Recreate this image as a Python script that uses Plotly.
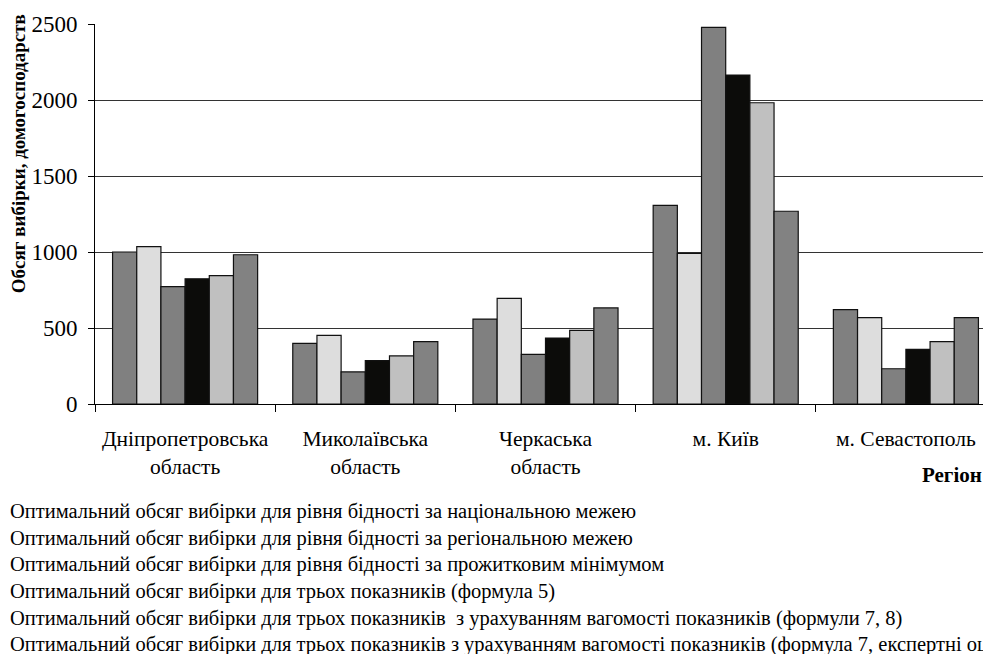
import plotly.graph_objects as go

regions = ["Дніпропетровська<br>область", "Миколаївська<br>область", "Черкаська<br>область", "м. Київ", "м. Севастополь"]

series_names = [
    "Оптимальний обсяг вибірки для рівня бідності за національною межею",
    "Оптимальний обсяг вибірки для рівня бідності за регіональною межею",
    "Оптимальний обсяг вибірки для рівня бідності за прожитковим мінімумом",
    "Оптимальний обсяг вибірки для трьох показників (формула 5)",
    "Оптимальний обсяг вибірки для трьох показників  з урахуванням вагомості показників (формули 7, 8)",
    "Оптимальний обсяг вибірки для трьох показників з урахуванням вагомості показників (формула 7, експертні оцінки)",
]

national = [1000, 399, 559, 1307, 621]
regional = [1035, 452, 695, 991, 568]
subsistence = [772, 211, 327, 2478, 232]
three_f5 = [824, 285, 434, 2164, 360]
three_f78 = [844, 316, 485, 1982, 410]
three_expert = [982, 410, 632, 1268, 568]

series_values = [national, regional, subsistence, three_f5, three_f78, three_expert]
colors = ["#808080", "#DDDDDD", "#808080", "#0C0C0A", "#C0C0C0", "#828282"]

y_ticks = [0, 500, 1000, 1500, 2000, 2500]

FONT = "Liberation Serif"

# legend rows (paper y of each legend entry)
legend_rows_y = [-0.279, -0.350, -0.418, -0.490, -0.561, -0.629]

fig = go.Figure()
for i, (name, vals, col) in enumerate(zip(series_names, series_values, colors)):
    lg = "legend" if i == 0 else f"legend{i+1}"
    fig.add_trace(go.Bar(
        x=regions, y=vals, name=name, legend=lg,
        marker=dict(color=col, line=dict(color="#111111", width=1.2)),
    ))

layout_legends = {}
for i, ly in enumerate(legend_rows_y):
    key = "legend" if i == 0 else f"legend{i+1}"
    layout_legends[key] = dict(
        orientation="v", x=-0.1387, xanchor="left", y=ly, yanchor="middle",
        font=dict(family=FONT, size=20.5, color="black"),
        itemwidth=30, bgcolor="rgba(0,0,0,0)",
    )

fig.update_layout(
    width=991, height=646,
    margin=dict(l=87, r=3, t=16, b=250, autoexpand=False),
    paper_bgcolor="white", plot_bgcolor="white",
    barmode="group", bargap=0.195, bargroupgap=0,
    font=dict(family=FONT, size=19, color="black"),
    showlegend=True,
    xaxis=dict(
        type="category", range=[-0.5, 4.5],
        showline=True, linecolor="black", linewidth=1, mirror=False,
        ticks="outside", ticklen=7, tickcolor="black", tickson="boundaries",
        showgrid=False, ticklabelstandoff=15,
        tickfont=dict(family=FONT, size=21.5, color="black"),
    ),
    yaxis=dict(
        range=[0, 2500], tickvals=y_ticks,
        showline=True, linecolor="black", linewidth=1,
        ticks="outside", ticklen=6, tickcolor="black",
        showgrid=True, gridcolor="#333333", gridwidth=1,
        zeroline=False, ticklabelstandoff=6,
        tickfont=dict(family=FONT, size=23, color="black"),
    ),
    annotations=[
        dict(text="<b>Обсяг вибірки, домогосподарств</b>", textangle=-90,
             xref="paper", yref="paper", x=-0.0855, y=0.66, xanchor="center", yanchor="middle",
             showarrow=False, font=dict(family=FONT, size=19, color="black")),
        dict(text="<b>Регіон</b>", xref="paper", yref="paper", x=0.987, y=-0.187,
             xanchor="right", yanchor="middle", showarrow=False,
             font=dict(family=FONT, size=21, color="black")),
    ],
    **layout_legends,
)

fig.write_html("out.html")
